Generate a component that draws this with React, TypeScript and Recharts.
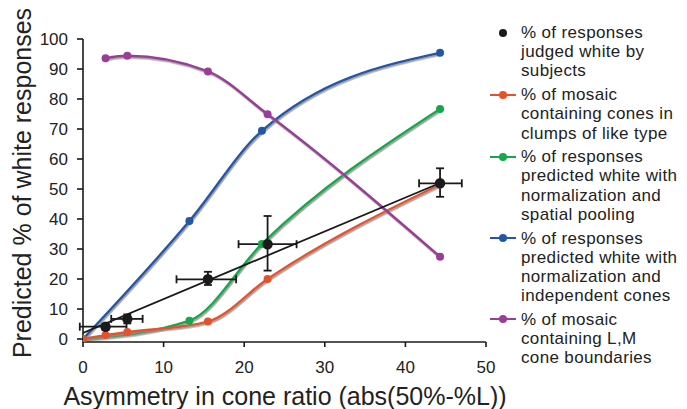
import React from 'react';
import { ComposedChart, Line, Scatter, ErrorBar, XAxis, YAxis } from 'recharts';

// x = asymmetry in cone ratio, y = predicted % of white responses
const subjectX = [2.8, 5.5, 15.5, 22.9, 44.3];
const subjectY = [4.1, 6.7, 19.9, 31.6, 51.9];
const subjectErrX = [[3.2, 2.6], [2.0, 1.9], [3.9, 3.5], [3.6, 3.6], [2.6, 2.7]];
const subjectErrY = [[1.0, 1.0], [1.5, 1.5], [1.9, 2.5], [8.8, 9.4], [4.5, 5.0]];

const fitX = [0, 44.3];
const fitY = [2, 52];

const clumpsX = [0, 2.8, 5.5, 15.5, 22.9, 44.3];
const clumpsY = [0, 1.3, 2.3, 5.8, 20, 51.5];

const poolingX = [0, 13.2, 22.2, 44.3];
const poolingY = [0, 6.1, 31.7, 76.7];

const independentX = [0, 13.2, 22.2, 44.3];
const independentY = [0, 39.3, 69.4, 95.4];

const boundaryX = [2.8, 5.5, 15.5, 22.9, 44.3];
const boundaryY = [93.6, 94.4, 89.2, 74.9, 27.4];

const xTicks = [0, 10, 20, 30, 40, 50];
const yTicks = [0, 10, 20, 30, 40, 50, 60, 70, 80, 90, 100];

const legendItems = [
  { color: '#1a1a1a', line: false, lines: ['% of responses', 'judged white by', 'subjects'] },
  { color: '#e4522b', line: true, lines: ['% of mosaic', 'containing cones in', 'clumps of like type'] },
  { color: '#13a84b', line: true, lines: ['% of responses', 'predicted white with', 'normalization and', 'spatial pooling'] },
  { color: '#2257a6', line: true, lines: ['% of responses', 'predicted white with', 'normalization and', 'independent cones'] },
  { color: '#9a3d98', line: true, lines: ['% of mosaic', 'containing L,M', 'cone boundaries'] },
];

const zip = (xs: number[], ys: number[]) => xs.map((x, i) => ({ x, y: ys[i] }));

const subjects = subjectX.map((x, i) => ({ x, y: subjectY[i], ex: subjectErrX[i], ey: subjectErrY[i] }));

const FONT = '"Liberation Sans", Arial, Helvetica, sans-serif';

function Legend() {
  return (
    <div
      style={{
        position: 'absolute',
        left: 490,
        top: 23,
        fontFamily: FONT,
        fontSize: 17,
        lineHeight: '19.2px',
        letterSpacing: '0.35px',
        color: '#222',
      }}
    >
      {legendItems.map((item, i) => (
        <div key={i} style={{ position: 'relative', marginBottom: 4.5, paddingLeft: 31 }}>
          {item.line && (
            <div style={{ position: 'absolute', left: 0, top: 8.6, width: 26, height: 2, background: item.color }} />
          )}
          <div style={{ position: 'absolute', left: 9, top: 5.6, width: 8, height: 8, borderRadius: 4, background: item.color }} />
          {item.lines.map((t, j) => (
            <div key={j} style={{ whiteSpace: 'nowrap' }}>{t}</div>
          ))}
        </div>
      ))}
    </div>
  );
}

export default function App() {
  const tick = { fontSize: 17, fill: '#222', fontFamily: FONT };
  const lineProps = { type: 'monotone' as const, dataKey: 'y', strokeWidth: 2.4, isAnimationActive: false, className: 'shadowed' };
  return (
    <div style={{ position: 'absolute', left: 0, top: 0, width: 687, height: 409, background: '#fff' }}>
      <style>{`.shadowed { filter: url(#shadow); }`}</style>
      <svg width={0} height={0} style={{ position: 'absolute' }}>
        <defs>
          <filter id="shadow" x="-5%" y="-5%" width="110%" height="110%">
            <feDropShadow dx="1" dy="1.6" stdDeviation="0.7" floodColor="#8a8a8a" floodOpacity="0.8" />
          </filter>
        </defs>
      </svg>
      <ComposedChart width={687} height={409} margin={{ top: 39, right: 201, bottom: 27, left: 23 }}>
        <XAxis
          type="number"
          dataKey="x"
          domain={[0, 50]}
          ticks={xTicks}
          allowDataOverflow
          height={40}
          tick={tick}
          tickSize={5}
          tickMargin={14}
          stroke="#1a1a1a"
          strokeWidth={1.6}
        />
        <YAxis
          type="number"
          dataKey="y"
          domain={[-1, 100]}
          ticks={yTicks}
          allowDataOverflow
          width={60}
          tick={tick}
          tickSize={6}
          tickMargin={9}
          stroke="#1a1a1a"
          strokeWidth={1.6}
        />
        <Line {...lineProps} data={zip(independentX, independentY)} stroke="#2257a6" dot={{ r: 4, fill: '#2257a6', stroke: 'none' }} />
        <Line {...lineProps} data={zip(poolingX, poolingY)} stroke="#13a84b" dot={{ r: 4, fill: '#13a84b', stroke: 'none' }} />
        <Line {...lineProps} data={zip(clumpsX, clumpsY)} stroke="#e4522b" dot={{ r: 4, fill: '#e4522b', stroke: 'none' }} />
        <Line {...lineProps} data={zip(boundaryX, boundaryY)} stroke="#9a3d98" dot={{ r: 4, fill: '#9a3d98', stroke: 'none' }} />
        <Line type="linear" dataKey="y" data={zip(fitX, fitY)} stroke="#1a1a1a" strokeWidth={1.8} dot={false} isAnimationActive={false} />
        <Scatter
          data={subjects}
          dataKey="y"
          fill="#1a1a1a"
          isAnimationActive={false}
          shape={(p: any) => <circle cx={p.cx} cy={p.cy} r={5.2} fill="#1a1a1a" />}
        >
          <ErrorBar dataKey="ex" direction="x" width={4} stroke="#1a1a1a" strokeWidth={1.8} />
          <ErrorBar dataKey="ey" direction="y" width={4} stroke="#1a1a1a" strokeWidth={1.8} />
        </Scatter>
      </ComposedChart>
      <div
        style={{
          position: 'absolute',
          left: 22,
          top: 183,
          transform: 'translate(-50%, -50%) rotate(-90deg)',
          fontFamily: FONT,
          fontSize: 25,
          color: '#222',
          whiteSpace: 'nowrap',
        }}
      >
        Predicted % of white responses
      </div>
      <div
        style={{
          position: 'absolute',
          left: 285,
          top: 396,
          transform: 'translate(-50%, -50%)',
          fontFamily: FONT,
          fontSize: 25,
          color: '#222',
          whiteSpace: 'nowrap',
        }}
      >
        Asymmetry in cone ratio (abs(50%-%L))
      </div>
      <Legend />
    </div>
  );
}
